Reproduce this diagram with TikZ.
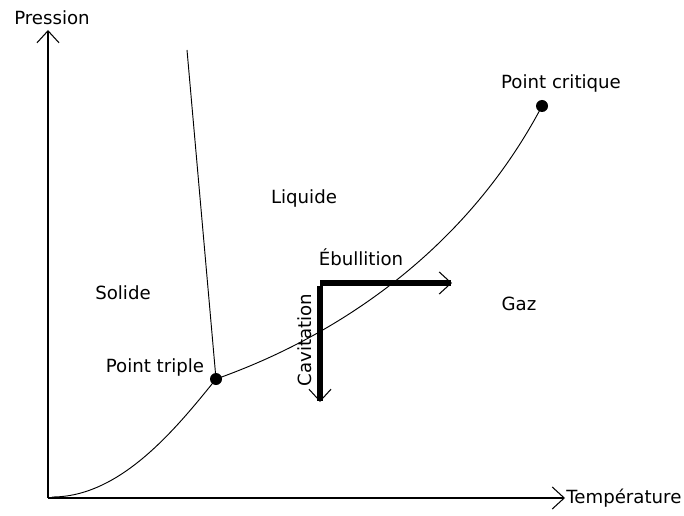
\documentclass[tikz,border=0pt]{standalone}
\usepackage{fontspec}
\setmainfont{DejaVu Sans}
\usepackage{tikz}
\usetikzlibrary{arrows.meta, positioning, calc}
\definecolor{DiagBlack}{HTML}{000000}
\definecolor{DiagWhite}{HTML}{FFFFFF}
\tikzset{
    axis/.style={
        -{Straight Barb[length=0.36cm, width=0.66cm, line width=0.9pt]},
        line width=1.6pt,
        DiagBlack
    },
    phaseline/.style={
        line width=0.8pt,
        DiagBlack
    },
    bigarrow/.style={
        -{Straight Barb[length=0.36cm, width=0.66cm, line width=0.9pt]},
        line width=4.5pt,
        DiagBlack
    },
    keypoint/.style={
        circle,
        fill=DiagBlack,
        inner sep=0pt,
        minimum size=0.36cm
    },
    label/.style={
        text=DiagBlack,
        font=\fontsize{15.5}{18}\selectfont,
        inner sep=1pt
    }
}

\begin{document}
\begin{tikzpicture}[x=0.03cm, y=-0.03cm]
        \useasboundingbox[fill=DiagWhite] (0,0) rectangle (684,516);

        % axes
        \coordinate (origin) at (48,498);
        \coordinate (ymax) at (48,30);
        \coordinate (xmax) at (565,498);
        \draw[axis] (origin) -- (ymax);
        \draw[axis] (origin) -- (xmax);
        \node[label] (pression) at (52,18) {Pression};
        \node[label, anchor=west] (temperature) at (xmax) {Température};

        % points
        \node[keypoint] (triple) at (216,379) {};
        \node[keypoint] (critique) at (542,106) {};
        \node[label] (tripletext) at (155,367) {Point triple};
        \node[label] (critiquetext) at (561,83) {Point critique};

        % phase lines
        \coordinate (subl) at (52,497);
        \coordinate (fusion) at (187,50);
        \draw[phaseline] (subl) .. controls (120,497) and (175,430) .. (triple.center);
        \draw[phaseline] (triple.center) .. controls (335,337) and (465,252) .. (critique.center);
        \draw[phaseline] (triple.center) -- (fusion);

        % regions
        \node[label] (liquide) at (304,198) {Liquide};
        \node[label] (solide) at (123,293) {Solide};
        \node[label] (gaz) at (519,304) {Gaz};

        % transitions
        \coordinate (corner) at (320,283);
        \coordinate (ebullend) at (452,283);
        \coordinate (cavend) at (320,402);
        \draw[bigarrow] (corner) -- (ebullend);
        \draw[bigarrow] ([yshift=-2.2pt]corner) -- (cavend);
        \node[label] (ebullition) at (361,257) {Ébullition};
        \node[label, rotate=90] (cavitation) at (305,340) {Cavitation};
    \end{tikzpicture}
\end{document}
